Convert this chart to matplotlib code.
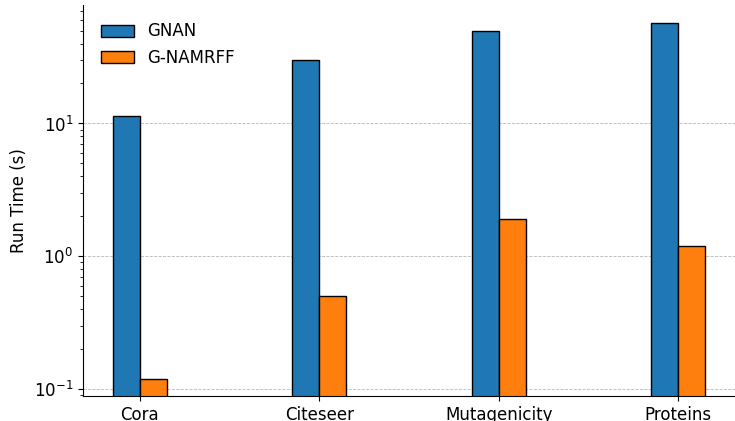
import numpy as np
import matplotlib
matplotlib.use("Agg")
import matplotlib.pyplot as plt

# run times (seconds) per dataset
datasets = ["Cora", "Citeseer", "Mutagenicity", "Proteins"]
gnan_time = [11.4, 30.0, 50.0, 57.0]
namrff_time = [0.12, 0.50, 1.9, 1.2]

x = np.arange(len(datasets))
w = 0.15

fig = plt.figure(figsize=(7.35, 4.21), dpi=100)
ax = fig.add_axes([83 / 735, 25 / 421, 652 / 735, 391 / 421])

ax.bar(x - w / 2, gnan_time, w, color="#1f77b4", edgecolor="black", label="GNAN")
ax.bar(x + w / 2, namrff_time, w, color="#ff7f0e", edgecolor="black", label="G-NAMRFF")

ax.set_yscale("log")
ax.set_ylim(0.0886, 78)
ax.set_xticks(x)
ax.set_xticklabels(datasets, fontsize=12)
ax.tick_params(axis="y", labelsize=12)
ax.set_ylabel("Run Time (s)", fontsize=12)

ax.grid(axis="y", which="major", linestyle="--", linewidth=0.6, color="#b8b8b8")
ax.set_axisbelow(True)
ax.spines["top"].set_visible(False)
ax.spines["right"].set_visible(False)

ax.legend(loc="upper left", frameon=False, fontsize=12, borderaxespad=0.65)

fig.savefig("out.png", dpi=100)
